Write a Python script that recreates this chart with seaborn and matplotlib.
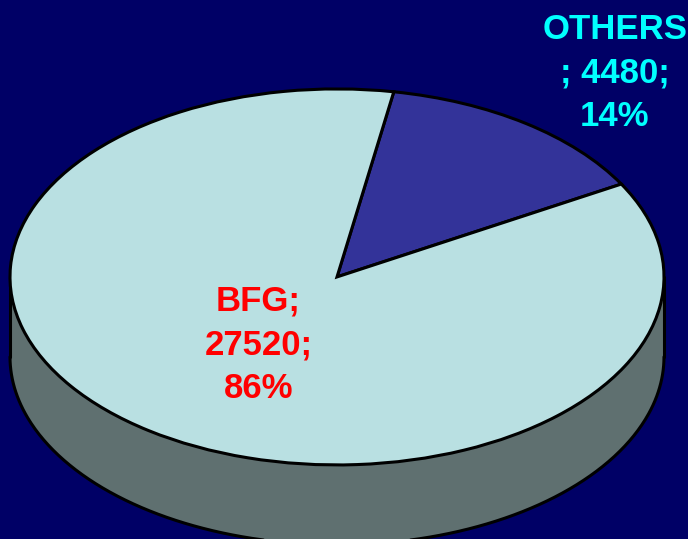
import numpy as np
import matplotlib
matplotlib.use("Agg")
import matplotlib.pyplot as plt
import seaborn as sns

# data
labels = ["OTHERS", "BFG"]
values = [4480, 27520]
slice_colors = ["#333399", "#B9E0E2"]
label_colors = ["#00FFFF", "#FF0000"]
side_color = "#5F7070"
bg = "#000066"

sns.set_theme(style="white")
plt.rcParams["font.family"] = ["Liberation Sans", "DejaVu Sans"]

fig = plt.figure(figsize=(6.88, 5.39), dpi=100, facecolor=bg)
ax = fig.add_axes([0, 0, 1, 1])
ax.set_facecolor(bg)

depth = 0.425  # thickness of the disc

# side of the disc (lower half of the ellipse, pushed down)
t = np.linspace(np.pi, 2 * np.pi, 400)
xs = np.cos(t)
ys = np.sin(t)
ax.fill_between(xs, ys, ys - depth, color=side_color, zorder=1, linewidth=0)
ax.plot(xs, ys - depth, color="black", lw=2.2, zorder=2)
ax.plot([-1, -1], [0, -depth], color="black", lw=2.2, zorder=2)
ax.plot([1, 1], [0, -depth], color="black", lw=2.2, zorder=2)

# top face
ax.pie(values, colors=slice_colors, startangle=80, counterclock=False,
       radius=1, center=(0, 0),
       wedgeprops=dict(edgecolor="black", linewidth=2.2, zorder=3))

total = sum(values)
pcts = [round(v / total * 100) for v in values]
texts = [f"{labels[0]}\n; {values[0]};\n{pcts[0]}%",
         f"{labels[1]};\n{values[1]};\n{pcts[1]}%"]
positions = [(0.85, 1.085), (-0.24, -0.36)]
for txt, (x, y), c in zip(texts, positions, label_colors):
    ax.text(x, y, txt, color=c, fontsize=25, fontweight="bold",
            ha="center", va="center", linespacing=1.42, zorder=5)

ax.set_aspect("auto")
ax.set_xlim(-1.0306, 1.0734)
ax.set_ylim(-1.394, 1.473)
ax.axis("off")

fig.savefig("out.png", dpi=100, facecolor=bg)
